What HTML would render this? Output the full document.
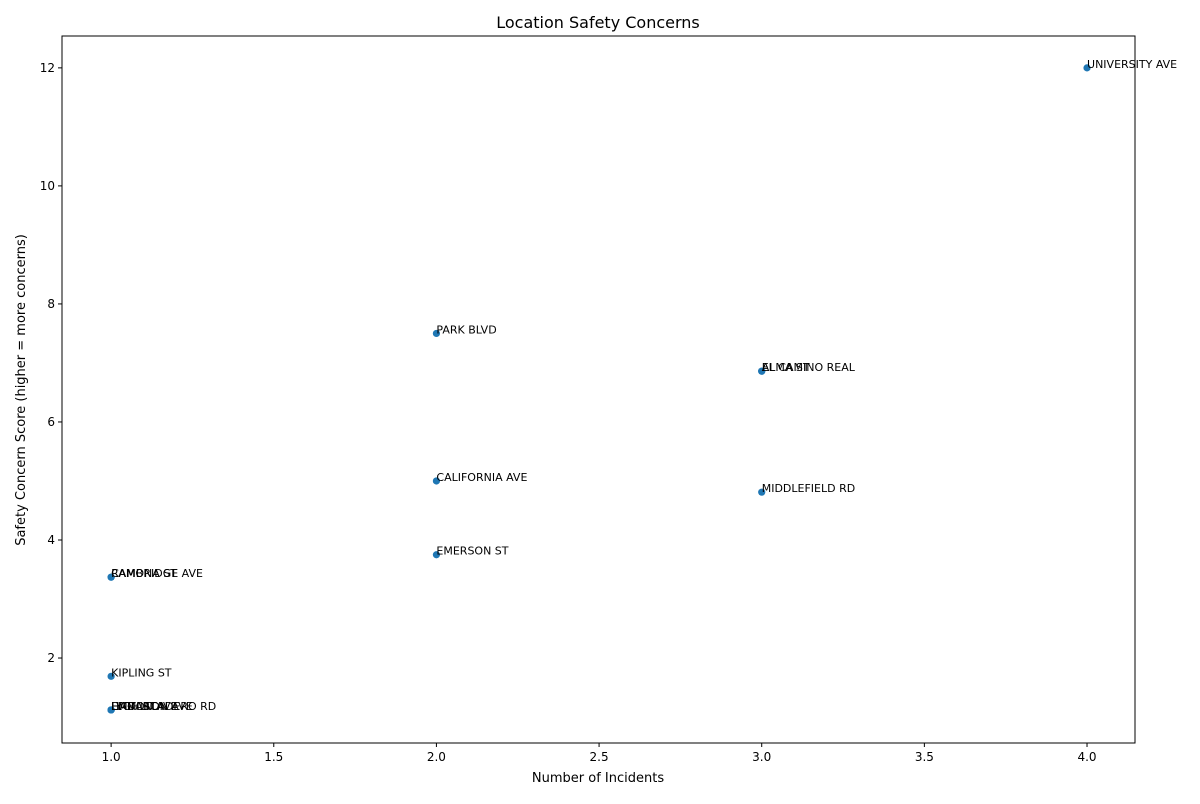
<!DOCTYPE html>
<html><head><meta charset="utf-8"><style>
body{margin:0;background:#fff;font-family:"DejaVu Sans","Liberation Sans",sans-serif}
</style></head><body>
<svg id="chart" width="1200" height="800" xmlns="http://www.w3.org/2000/svg" font-family="DejaVu Sans, Liberation Sans, sans-serif">
<rect width="1200" height="800" fill="#fff"/>
<text x="598" y="28" text-anchor="middle" font-size="16">Location Safety Concerns</text>
<g id="ticks"></g>
<g id="points"></g>
<rect x="62" y="36" width="1073" height="707" fill="none" stroke="#000" stroke-width="1"/>
<text x="598" y="782" text-anchor="middle" font-size="13">Number of Incidents</text>
<text transform="translate(25,390) rotate(-90)" text-anchor="middle" font-size="13">Safety Concern Score (higher = more concerns)</text>
</svg>
<script>
const names = ["UNIVERSITY AVE","PARK BLVD","ALMA ST","EL CAMINO REAL","CALIFORNIA AVE","MIDDLEFIELD RD","EMERSON ST","CAMBRIDGE AVE","RAMONA ST","KIPLING ST","HIGH ST","LYTTON AVE","HAMILTON AVE","EMBARCADERO RD"];
const incidents = [4,2,3,3,2,3,2,1,1,1,1,1,1,1];
const scores = [12,7.5,6.86,6.86,5.0,4.81,3.75,3.37,3.37,1.69,1.12,1.12,1.12,1.12];
const xTicks = [1.0,1.5,2.0,2.5,3.0,3.5,4.0];
const yTicks = [2,4,6,8,10,12];
const X0=62,X1=1135,Y0=36,Y1=743;
const xMin=0.849,xMax=4.1475,yMin=0.56,yMax=12.54;
const sx=v=>X0+(v-xMin)/(xMax-xMin)*(X1-X0);
const sy=v=>Y1-(v-yMin)/(yMax-yMin)*(Y1-Y0);
const NS="http://www.w3.org/2000/svg";
const tg=document.getElementById('ticks'), pg=document.getElementById('points');
function mk(tag,attrs,parent){const e=document.createElementNS(NS,tag);for(const k in attrs)e.setAttribute(k,attrs[k]);parent.appendChild(e);return e;}
xTicks.forEach(t=>{
  const x=sx(t);
  const l=mk('line',{x1:x,x2:x,y1:Y1,y2:Y1+4,stroke:'#000'},tg);
  
  
  const tx=mk('text',{x:x,y:Y1+18,'text-anchor':'middle','font-size':12},tg);
  tx.textContent=t.toFixed(1);
  
  
});
yTicks.forEach(t=>{
  const y=sy(t);
  const l=mk('line',{x1:X0-4,x2:X0,y1:y,y2:y,stroke:'#000'},tg);
  
  
  const tx=mk('text',{x:X0-7,y:y+4,'text-anchor':'end','font-size':12},tg);
  tx.textContent=t;
  
  
});
names.forEach((n,i)=>{
  const x=sx(incidents[i]),y=sy(scores[i]);
  const c=mk('circle',{cx:x,cy:y,r:3.6,fill:'#1f77b4'},pg);
  
  
});
names.forEach((n,i)=>{
  const x=sx(incidents[i]),y=sy(scores[i]);
  const t=mk('text',{x:x,y:y,'font-size':11},pg);
  t.textContent=n;
  
  
});
</script>
</body></html>
